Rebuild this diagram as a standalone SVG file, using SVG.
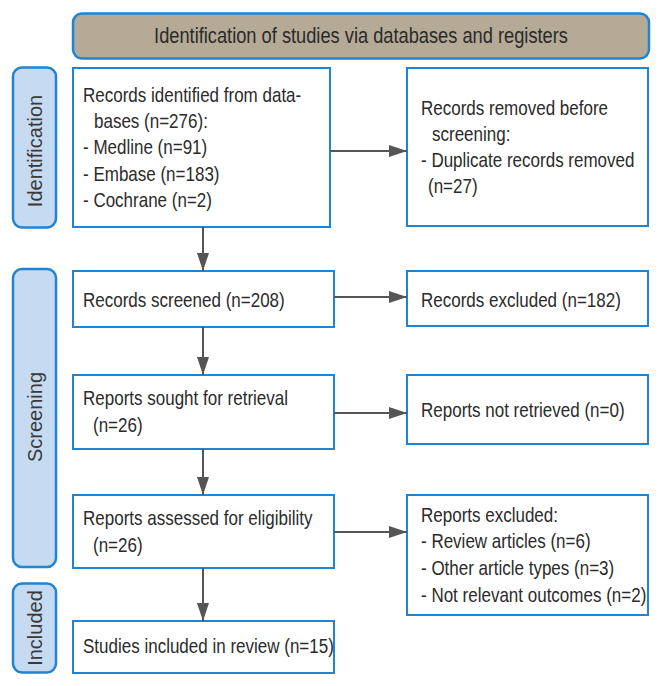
<svg xmlns="http://www.w3.org/2000/svg" width="662" height="686" viewBox="0 0 662 686">
<style>
.box{fill:#ffffff;stroke:#1f84d3;stroke-width:2}
.hdr{fill:#b4aa95;stroke:#1f84d3;stroke-width:2.5}
.side{fill:#c6dbf1;stroke:#1f84d3;stroke-width:2.5}
text{font-family:"Liberation Sans",Arial,sans-serif;font-size:21px;fill:#2b2b2b}
.ht{font-size:22px}
.st{font-size:20px;fill:#3a3a3a}
.ln{stroke:#555555;stroke-width:2;fill:none}
</style>
<defs>
<marker id="ah" markerWidth="18" markerHeight="12" refX="18" refY="6" orient="auto" markerUnits="userSpaceOnUse">
<path d="M0,0 L18,6 L0,12 z" fill="#555555"/>
</marker>
</defs>
<g id="header">
<rect class="hdr" x="73" y="13.5" width="576" height="45" rx="9"/>
<text class="ht" transform="translate(361,43) scale(0.83,1)" text-anchor="middle">Identification of studies via databases and registers</text>
</g>
<g id="lbl-identification">
<rect class="side" x="13" y="67.5" width="43" height="160" rx="9"/>
<text class="st" transform="translate(42,151) rotate(-90)" text-anchor="middle">Identification</text>
</g>
<g id="lbl-screening">
<rect class="side" x="13" y="269" width="43" height="298" rx="9"/>
<text class="st" transform="translate(42,417) rotate(-90)" text-anchor="middle">Screening</text>
</g>
<g id="lbl-included">
<rect class="side" x="13" y="583.5" width="43" height="89" rx="9"/>
<text class="st" transform="translate(42,628) rotate(-90)" text-anchor="middle">Included</text>
</g>
<g id="n-identified">
<rect class="box" x="73" y="68" width="257" height="159"/>
<text transform="translate(83,102) scale(0.81,1)">Records identified from data-</text>
<text transform="translate(94,128) scale(0.81,1)">bases (n=276):</text>
<text transform="translate(83,154) scale(0.81,1)">- Medline (n=91)</text>
<text transform="translate(83,181) scale(0.81,1)">- Embase (n=183)</text>
<text transform="translate(83,207) scale(0.81,1)">- Cochrane (n=2)</text>
</g>
<g id="n-removed">
<rect class="box" x="407" y="68" width="241" height="158"/>
<text transform="translate(421,115) scale(0.81,1)">Records removed before</text>
<text transform="translate(432,141) scale(0.81,1)">screening:</text>
<text transform="translate(421,167) scale(0.81,1)">- Duplicate records removed</text>
<text transform="translate(428,193) scale(0.81,1)">(n=27)</text>
</g>
<g id="n-screened">
<rect class="box" x="73" y="271" width="261" height="56"/>
<text transform="translate(83,307) scale(0.81,1)">Records screened (n=208)</text>
</g>
<g id="n-excluded">
<rect class="box" x="407" y="271" width="241" height="55"/>
<text transform="translate(421,307) scale(0.81,1)">Records excluded (n=182)</text>
</g>
<g id="n-sought">
<rect class="box" x="73" y="375" width="261" height="74"/>
<text transform="translate(83,405) scale(0.81,1)">Reports sought for retrieval</text>
<text transform="translate(93,432) scale(0.81,1)">(n=26)</text>
</g>
<g id="n-notretrieved">
<rect class="box" x="407" y="375" width="241" height="69"/>
<text transform="translate(421,417) scale(0.81,1)">Reports not retrieved (n=0)</text>
</g>
<g id="n-assessed">
<rect class="box" x="73" y="495" width="261" height="73"/>
<text transform="translate(83,525) scale(0.81,1)">Reports assessed for eligibility</text>
<text transform="translate(93,552) scale(0.81,1)">(n=26)</text>
</g>
<g id="n-reportsexcluded">
<rect class="box" x="407" y="495" width="241" height="120"/>
<text transform="translate(421,522) scale(0.81,1)">Reports excluded:</text>
<text transform="translate(421,548) scale(0.81,1)">- Review articles (n=6)</text>
<text transform="translate(421,575) scale(0.81,1)">- Other article types (n=3)</text>
<text transform="translate(421,602) scale(0.81,1)">- Not relevant outcomes (n=2)</text>
</g>
<g id="n-included">
<rect class="box" x="73" y="621" width="261" height="52"/>
<text transform="translate(83,653) scale(0.81,1)">Studies included in review (n=15)</text>
</g>
<g id="connectors">
<line class="ln" x1="330" y1="151" x2="407" y2="151" marker-end="url(#ah)"/>
<line class="ln" x1="334" y1="297" x2="407" y2="297" marker-end="url(#ah)"/>
<line class="ln" x1="334" y1="413" x2="407" y2="413" marker-end="url(#ah)"/>
<line class="ln" x1="334" y1="532" x2="407" y2="532" marker-end="url(#ah)"/>
<line class="ln" x1="203" y1="227" x2="203" y2="271" marker-end="url(#ah)"/>
<line class="ln" x1="203" y1="327" x2="203" y2="375" marker-end="url(#ah)"/>
<line class="ln" x1="203" y1="449" x2="203" y2="495" marker-end="url(#ah)"/>
<line class="ln" x1="203" y1="568" x2="203" y2="621" marker-end="url(#ah)"/>
</g>
</svg>
